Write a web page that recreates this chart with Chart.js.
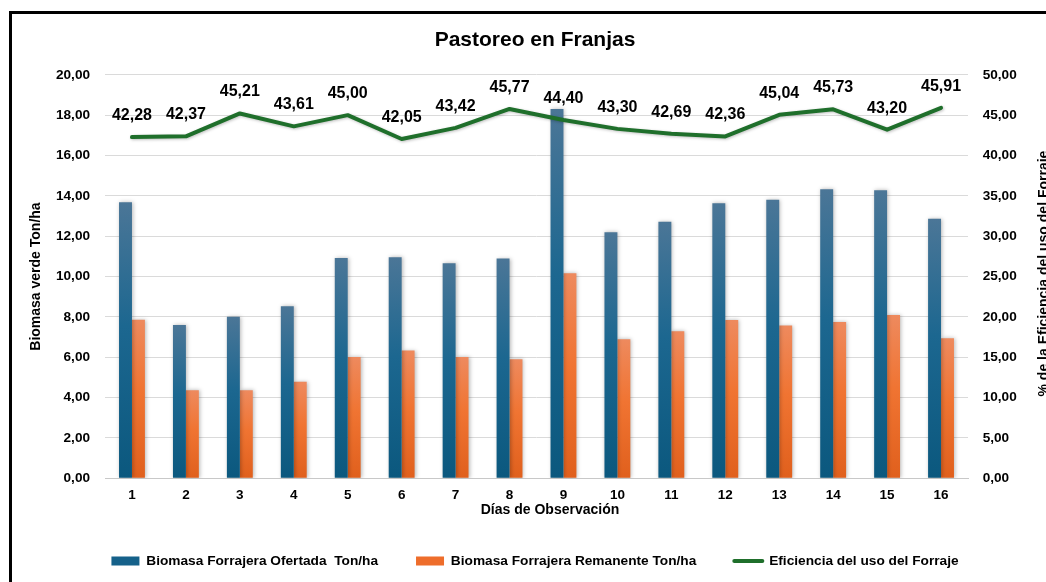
<!DOCTYPE html>
<html>
<head>
<meta charset="utf-8">
<script src="https://cdn.jsdelivr.net/npm/chart.js@4"></script>
<style>
  html, body { margin: 0; padding: 0; background: #fff; overflow: hidden; width: 1046px; height: 582px; }
  #frame { position: absolute; left: 9px; top: 11px; border: 3px solid #000; width: 1046px; height: 574px; background: #fff; }
  canvas { display: block; }
</style>
</head>
<body>
<div id="frame"><canvas id="c" width="1046" height="574"></canvas></div>
<script>
const chartTitle = 'Pastoreo en Franjas';
const days = ['1','2','3','4','5','6','7','8','9','10','11','12','13','14','15','16'];
const ofertada = [13.68, 7.60, 8.01, 8.53, 10.92, 10.96, 10.66, 10.89, 18.31, 12.20, 12.72, 13.63, 13.81, 14.33, 14.28, 12.86];
const remanente = [7.86, 4.36, 4.36, 4.79, 6.01, 6.33, 6.01, 5.90, 10.16, 6.89, 7.29, 7.85, 7.57, 7.75, 8.10, 6.94];
const eficiencia = [42.28, 42.37, 45.21, 43.61, 45.00, 42.05, 43.42, 45.77, 44.40, 43.30, 42.69, 42.36, 45.04, 45.73, 43.20, 45.91];
const seriesNames = ['Biomasa Forrajera Ofertada  Ton/ha', 'Biomasa Forrajera Remanente Ton/ha', 'Eficiencia del uso del Forraje'];
const leftAxisTitle = 'Biomasa verde Ton/ha';
const rightAxisTitle = '% de la Eficiencia del uso del Forraje';
const xAxisTitle = 'Días de Observación';

const FONT = "'Liberation Sans', Arial, Helvetica, sans-serif";
const fmt = v => Number(v).toFixed(2).replace('.', ',');

function barGradient(stops, solid) {
  return function (ctx) {
    const chart = ctx.chart;
    if (ctx.type !== 'data' || !chart.chartArea) return solid;
    const v = ctx.raw;
    const y = chart.scales.y;
    const top = y.getPixelForValue(v);
    const base = y.getPixelForValue(0);
    if (!isFinite(top) || !isFinite(base) || Math.abs(base - top) < 1) return solid;
    const g = chart.ctx.createLinearGradient(0, top, 0, base);
    stops.forEach(s => g.addColorStop(s[0], s[1]));
    return g;
  };
}

const blueStops = [[0, '#4b7697'], [0.45, '#1c6790'], [1, '#0b587e']];
const orangeStops = [[0, '#ee8a5e'], [0.45, '#f07432'], [1, '#e0601d']];

const shadowPlugin = {
  id: 'shadow',
  beforeDatasetDraw(chart, args) {
    const ctx = chart.ctx;
    ctx.save();
    if (args.meta.type === 'bar') {
      ctx.shadowColor = 'rgba(0,0,0,0.28)';
      ctx.shadowBlur = 4;
      ctx.shadowOffsetX = 1;
      ctx.shadowOffsetY = 0;
    } else {
      ctx.shadowColor = 'rgba(0,0,0,0.25)';
      ctx.shadowBlur = 3;
      ctx.shadowOffsetX = 1;
      ctx.shadowOffsetY = 1;
    }
  },
  afterDatasetDraw(chart) {
    chart.ctx.restore();
  }
};

const labelsPlugin = {
  id: 'valueLabels',
  afterDatasetsDraw(chart) {
    const ctx = chart.ctx;
    const meta = chart.getDatasetMeta(2);
    ctx.save();
    ctx.font = 'bold 16px ' + FONT;
    ctx.fillStyle = '#000';
    ctx.textAlign = 'center';
    ctx.textBaseline = 'middle';
    meta.data.forEach((pt, i) => {
      ctx.fillText(fmt(eficiencia[i]), pt.x, pt.y - 21.5);
    });
    ctx.restore();
  }
};

const axisTitlesPlugin = {
  id: 'axisTitles',
  afterDraw(chart) {
    const ctx = chart.ctx;
    const ca = chart.chartArea;
    ctx.save();
    ctx.font = 'bold 14px ' + FONT;
    ctx.fillStyle = '#000';
    ctx.textAlign = 'center';
    ctx.textBaseline = 'middle';
    // x title
    ctx.fillText(xAxisTitle, (ca.left + ca.right) / 2 + 13.5, chart.scales.x.top + 31.7);
    // right title (reads bottom to top)
    const s = chart.scales.y1;
    ctx.translate(s.right - 14, (ca.top + ca.bottom) / 2 - 3);
    ctx.rotate(-Math.PI / 2);
    ctx.fillText(rightAxisTitle, 0, 0);
    ctx.restore();
  }
};

new Chart(document.getElementById('c'), {
  type: 'bar',
  data: {
    labels: days,
    datasets: [
      {
        label: seriesNames[0],
        data: ofertada,
        backgroundColor: barGradient(blueStops, '#155f86'),
        borderWidth: 0,
        pointStyle: 'rect',
        yAxisID: 'y',
        order: 1,
        categoryPercentage: 0.48,
        barPercentage: 1.0
      },
      {
        label: seriesNames[1],
        data: remanente,
        backgroundColor: barGradient(orangeStops, '#ec6a2a'),
        borderWidth: 0,
        pointStyle: 'rect',
        yAxisID: 'y',
        order: 1,
        categoryPercentage: 0.48,
        barPercentage: 1.0
      },
      {
        type: 'line',
        label: seriesNames[2],
        data: eficiencia,
        borderColor: '#1f6f2b',
        backgroundColor: '#1f6f2b',
        borderWidth: 4,
        borderCapStyle: 'round',
        borderJoinStyle: 'round',
        pointRadius: 0,
        pointHoverRadius: 0,
        pointStyle: 'line',
        tension: 0,
        fill: false,
        yAxisID: 'y1',
        order: 0
      }
    ]
  },
  options: {
    responsive: false,
    animation: false,
    events: [],
    layout: { padding: { left: 0, right: 0, top: 0, bottom: 10.15 } },
    plugins: {
      title: {
        display: true,
        text: chartTitle,
        color: '#000',
        font: { family: FONT, size: 21, weight: 'bold' },
        padding: { top: 13.9, bottom: 21.7 }
      },
      legend: {
        position: 'bottom',
        align: 'center',
        labels: {
          color: '#000',
          font: { family: FONT, size: 13.7, weight: 'bold' },
          usePointStyle: true,
          pointStyleWidth: 28,
          boxHeight: 9,
          padding: 38,
          sort: (a, b) => a.datasetIndex - b.datasetIndex,
          generateLabels(chart) {
            const items = Chart.defaults.plugins.legend.labels.generateLabels(chart);
            const solids = ['#15618a', '#ee6d2b', '#1f6f2b'];
            items.forEach(it => {
              it.fillStyle = solids[it.datasetIndex];
              if (it.datasetIndex < 2) { it.lineWidth = 0; it.strokeStyle = solids[it.datasetIndex]; }
              else { it.lineWidth = 4; it.strokeStyle = solids[2]; it.lineCap = 'round'; }
            });
            return items;
          }
        }
      },
      tooltip: { enabled: false }
    },
    scales: {
      x: {
        type: 'category',
        offset: true,
        grid: { display: false, drawTicks: false },
        border: { display: true, color: '#c8c8c8', width: 1 },
        ticks: {
          color: '#000',
          font: { family: FONT, size: 13.5, weight: 'bold' },
          padding: 8.6,
          maxRotation: 0,
          autoSkip: false
        },
        afterFit(scale) { scale.height = 37.85; }
      },
      y: {
        position: 'left',
        min: 0,
        max: 20,
        grid: { color: '#dadada', lineWidth: 1, drawTicks: false },
        border: { display: false },
        ticks: {
          stepSize: 2,
          color: '#000',
          font: { family: FONT, size: 13.6, weight: 'bold' },
          padding: 15,
          callback: v => fmt(v)
        },
        title: {
          display: true,
          text: leftAxisTitle,
          color: '#000',
          font: { family: FONT, size: 14, weight: 'bold' },
          padding: { top: 15.6, bottom: 0 }
        },
        afterFit(scale) { scale.width = 93; }
      },
      y1: {
        position: 'right',
        min: 0,
        max: 50,
        grid: { display: false, drawTicks: false },
        border: { display: false },
        ticks: {
          stepSize: 5,
          color: '#000',
          font: { family: FONT, size: 13.6, weight: 'bold' },
          padding: 14.7,
          callback: v => fmt(v)
        },
        afterFit(scale) { scale.width = 90; }
      }
    }
  },
  plugins: [shadowPlugin, labelsPlugin, axisTitlesPlugin]
});
</script>
</body>
</html>
